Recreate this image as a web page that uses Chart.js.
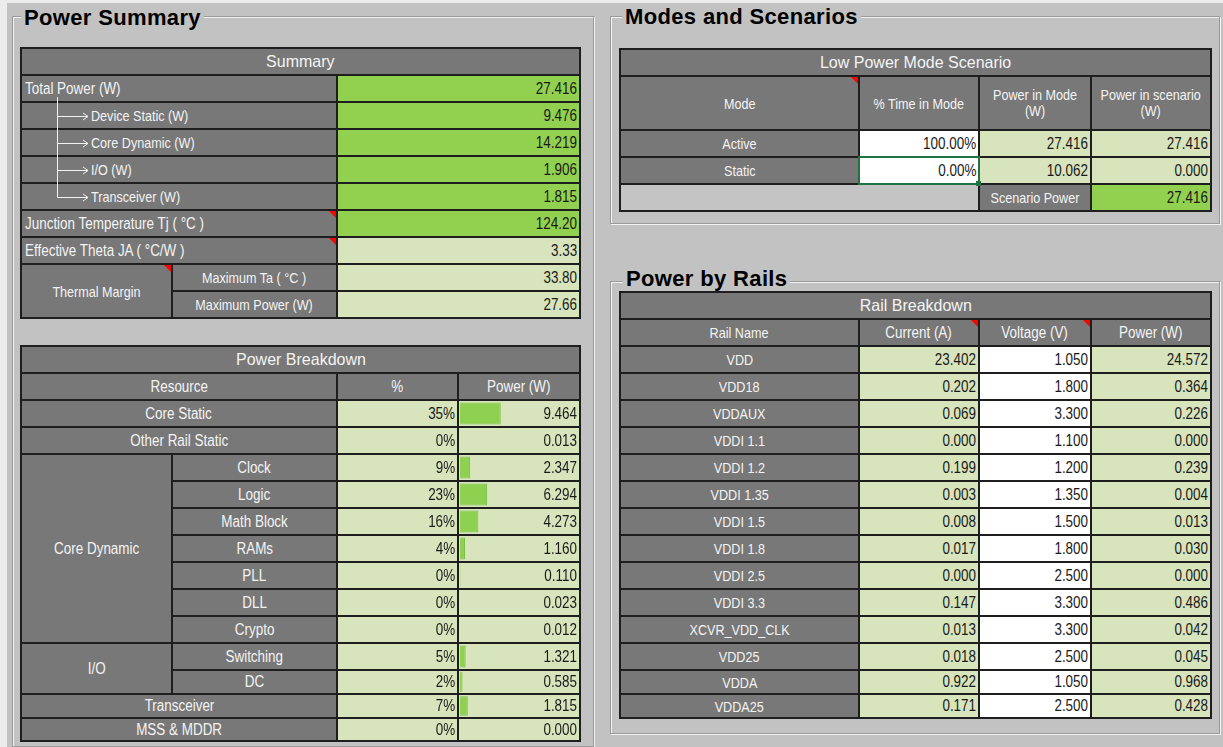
<!DOCTYPE html>
<html><head><meta charset="utf-8">
<script src="https://cdn.jsdelivr.net/npm/chart.js@4/dist/chart.umd.min.js"></script>
<style>
html,body{margin:0;padding:0;}
body{width:1223px;height:747px;position:relative;overflow:hidden;background:#ececec;font-family:"Liberation Sans",Arial,sans-serif;}
#bg{position:absolute;left:7px;top:3px;right:0;bottom:0;background:#c2c2c2;}
.frame{position:absolute;border:1px solid #9a9a9a;box-shadow:inset 1px 1px 0 #f2f2f2, 1px 1px 0 #f2f2f2;}
.title{position:absolute;font:bold 22px "Liberation Sans",Arial,sans-serif;letter-spacing:0.35px;color:#000;background:#c2c2c2;padding:0 3px;line-height:22px;white-space:nowrap;}
.grid{position:absolute;background:#1e1e1e;}
.c{position:absolute;box-sizing:border-box;display:flex;align-items:center;overflow:visible;white-space:nowrap;font-size:16px;}
.c span{position:relative;z-index:2;display:inline-block;}
.dk{background:#787878;color:#f4f4f4;justify-content:center;text-align:center;}
.hd{font-size:16.5px;}
.lg{background:#d8e4bc;color:#1a1a1a;justify-content:flex-end;padding-right:2px;}
.gr{background:#92d050;color:#1a1a1a;justify-content:flex-end;padding-right:2px;}
.wh{background:#ffffff;color:#1a1a1a;justify-content:flex-end;padding-right:2px;}
.em{background:#c4c4c4;}
.left{justify-content:flex-start;padding-left:3px;}
.tri{position:absolute;top:0;right:0;width:0;height:0;border-top:7px solid #ff0000;border-left:7px solid transparent;z-index:3;}
.bar{position:absolute;z-index:1;}
</style>
</head><body>
<div id="bg"></div>
<script>
// ---------------- DATA ----------------
const summaryLabels = ['Total Power (W)','Device Static (W)','Core Dynamic (W)','I/O (W)','Transceiver (W)','Junction Temperature Tj ( °C )','Effective Theta JA ( °C/W )','Maximum Ta ( °C )','Maximum Power (W)'];
const summaryValues = [27.416, 9.476, 14.219, 1.906, 1.815, 124.20, 3.33, 33.80, 27.66];
const summaryDigits = [3,3,3,3,3,2,2,2,2];

const breakdownResources = ['Core Static','Other Rail Static','Clock','Logic','Math Block','RAMs','PLL','DLL','Crypto','Switching','DC','Transceiver','MSS & MDDR'];
const breakdownGroups = ['', '', 'Core Dynamic','Core Dynamic','Core Dynamic','Core Dynamic','Core Dynamic','Core Dynamic','Core Dynamic','I/O','I/O','',''];
const breakdownPct = [35, 0, 9, 23, 16, 4, 0, 0, 0, 5, 2, 7, 0];
const breakdownPower = [9.464, 0.013, 2.347, 6.294, 4.273, 1.160, 0.110, 0.023, 0.012, 1.321, 0.585, 1.815, 0.000];

const modeNames = ['Active','Static'];
const modeTimePct = [100.00, 0.00];
const modePower = [27.416, 10.062];
const modeScenarioPower = [27.416, 0.000];
const scenarioPower = 27.416;

const railNames = ['VDD','VDD18','VDDAUX','VDDI 1.1','VDDI 1.2','VDDI 1.35','VDDI 1.5','VDDI 1.8','VDDI 2.5','VDDI 3.3','XCVR_VDD_CLK','VDD25','VDDA','VDDA25'];
const railCurrent = [23.402, 0.202, 0.069, 0.000, 0.199, 0.003, 0.008, 0.017, 0.000, 0.147, 0.013, 0.018, 0.922, 0.171];
const railVoltage = [1.050, 1.800, 3.300, 1.100, 1.200, 1.350, 1.500, 1.800, 2.500, 3.300, 3.300, 2.500, 1.050, 2.500];
const railPower = [24.572, 0.364, 0.226, 0.000, 0.239, 0.004, 0.013, 0.030, 0.000, 0.486, 0.042, 0.045, 0.968, 0.428];

// ---------------- LAYOUT ----------------
const SX = [21,172,337,580];
const SY = [48,75,102,129,156,183,210,237,264,291,318];
const BX = [21,172,337,458,580];
const BY = [346,373,400,427,454,481,508,535,562,589,616,643,670,694,718,741];
const MX = [620,859,979,1091,1211];
const MY = [49,76,130,157,184,211];
const RX = [620,859,979,1091,1211];
const RY = [292,319,346,373,400,427,454,481,508,535,562,589,616,643,670,694,718];
const SQUEEZE = 0.84;

const body = document.body;
function el(tag, cls, style, html){
  const d = document.createElement(tag);
  if (cls) d.className = cls;
  if (style) Object.assign(d.style, style);
  if (html !== undefined) d.innerHTML = html;
  body.appendChild(d);
  return d;
}
function frame(l,t,w,h){ el('div','frame',{left:l+'px',top:t+'px',width:w+'px',height:h+'px'}); }
function title(l,t,txt){ el('div','title',{left:l+'px',top:t+'px'},txt); }
function grid(X,Y){
  el('div','grid',{left:(X[0]-1)+'px',top:(Y[0]-1)+'px',width:(X[X.length-1]-X[0]+2)+'px',height:(Y[Y.length-1]-Y[0]+2)+'px'});
}
function cell(X,Y,c0,c1,r0,r1,text,cls,extra){
  const d = el('div','c '+cls,Object.assign({left:(X[c0]+1)+'px',top:(Y[r0]+1)+'px',width:(X[c1]-X[c0]-2)+'px',height:(Y[r1]-Y[r0]-2)+'px'},extra||{}));
  const s = document.createElement('span'); s.innerHTML = text;
  const sc = /\bhd\b/.test(cls) ? 0.97 : SQUEEZE;
  let org = 'center center';
  if (/\b(lg|gr|wh)\b/.test(cls)) org = 'right center';
  else if (/\bleft\b/.test(cls)) org = 'left center';
  s.style.transform = 'scaleX('+sc+')';
  s.style.transformOrigin = org;
  d.appendChild(s);
  return d;
}
function tri(d){ const t=document.createElement('div'); t.className='tri'; d.appendChild(t); }

// frames + titles
frame(12,16,580,729);
frame(610,16,608,206);
frame(610,281,608,451);
title(21,7,'Power Summary');
title(622,6,'Modes and Scenarios');
title(623,268,'Power by Rails');

// ---------- Summary table ----------
grid(SX,SY);
cell(SX,SY,0,3,0,1,'Summary','dk hd');
summaryLabels.forEach((lab,i)=>{
  const r = i+1;
  const v = summaryValues[i].toFixed(summaryDigits[i]);
  const valCls = i <= 5 ? 'gr' : 'lg';
  if (i === 0 || i === 5 || i === 6) {
    const d = cell(SX,SY,0,2,r,r+1,lab,'dk left');
    if (i >= 5) tri(d);
  } else if (i >= 1 && i <= 4) {
    cell(SX,SY,0,2,r,r+1,lab,'dk left',{paddingLeft:'69px',fontSize:'15px'});
  } else {
    cell(SX,SY,1,2,r,r+1,lab,'dk',{fontSize:'15px'});
  }
  cell(SX,SY,2,3,r,r+1,v,valCls);
});
tri(cell(SX,SY,0,1,8,10,'Thermal Margin','dk',{fontSize:'15px'}));
// tree connector
(function(){
  const ns='http://www.w3.org/2000/svg';
  const svg=document.createElementNS(ns,'svg');
  svg.setAttribute('width','120'); svg.setAttribute('height','130');
  Object.assign(svg.style,{position:'absolute',left:'0px',top:'90px',zIndex:5});
  const ys=[2,3,4,5].map(k=>Math.round((SY[k]+SY[k+1])/2)-90+0.5);
  let d='M57.5 7 L57.5 '+ys[3]+' ';
  ys.forEach(y=>{ d+='M57.5 '+y+' L88 '+y+' M83 '+(y-3.5)+' L88 '+y+' L83 '+(y+3.5)+' '; });
  const p=document.createElementNS(ns,'path');
  p.setAttribute('d',d); p.setAttribute('stroke','#f2f2f2'); p.setAttribute('fill','none'); p.setAttribute('stroke-width','1');
  svg.appendChild(p); body.appendChild(svg);
})();

// ---------- Power Breakdown ----------
grid(BX,BY);
cell(BX,BY,0,4,0,1,'Power Breakdown','dk hd');
cell(BX,BY,0,2,1,2,'Resource','dk');
cell(BX,BY,2,3,1,2,'%','dk');
cell(BX,BY,3,4,1,2,'Power (W)','dk');
const totalPower = summaryValues[0];
breakdownResources.forEach((res,i)=>{
  const r = i+2;
  const g = breakdownGroups[i];
  if (g) {
    if (i===0 || breakdownGroups[i-1]!==g) {
      let e=i; while (e+1<breakdownGroups.length && breakdownGroups[e+1]===g) e++;
      cell(BX,BY,0,1,r,e+3,g,'dk');
    }
    cell(BX,BY,1,2,r,r+1,res,'dk');
  } else {
    cell(BX,BY,0,2,r,r+1,res,'dk');
  }
  cell(BX,BY,2,3,r,r+1,breakdownPct[i]+'%','lg');
  const pc = cell(BX,BY,3,4,r,r+1,breakdownPower[i].toFixed(3),'lg');
  // data bar drawn by Chart.js
  const h = BY[r+1]-BY[r]-2;
  const cv = document.createElement('canvas');
  cv.width = 118; cv.height = h;
  cv.className='bar';
  Object.assign(cv.style,{left:'1px',top:'0px',width:'118px',height:h+'px'});
  pc.appendChild(cv);
  new Chart(cv,{
    type:'bar',
    data:{labels:[res],datasets:[{data:[breakdownPower[i]],backgroundColor:'#8ed04f',borderColor:'#78c044',borderWidth:1,barPercentage:0.88,categoryPercentage:1}]},
    options:{indexAxis:'y',responsive:false,animation:false,
      plugins:{legend:{display:false},tooltip:{enabled:false}},
      layout:{padding:0},
      scales:{x:{display:false,min:0,max:totalPower},y:{display:false}}}
  });
});

// ---------- Modes and Scenarios ----------
grid(MX,MY);
cell(MX,MY,0,4,0,1,'Low Power Mode Scenario','dk hd');
tri(cell(MX,MY,0,1,1,2,'Mode','dk',{fontSize:'15px'}));
cell(MX,MY,1,2,1,2,'% Time in Mode','dk',{fontSize:'15px'});
cell(MX,MY,2,3,1,2,'Power in Mode<br>(W)','dk',{fontSize:'15px',lineHeight:'16px'});
cell(MX,MY,3,4,1,2,'Power in scenario<br>(W)','dk',{fontSize:'15px',lineHeight:'16px'});
modeNames.forEach((m,i)=>{
  const r=i+2;
  cell(MX,MY,0,1,r,r+1,m,'dk',{fontSize:'15px'});
  cell(MX,MY,1,2,r,r+1,modeTimePct[i].toFixed(2)+'%','wh');
  cell(MX,MY,2,3,r,r+1,modePower[i].toFixed(3),'lg');
  cell(MX,MY,3,4,r,r+1,modeScenarioPower[i].toFixed(3),'lg');
});
cell(MX,MY,0,2,4,5,'','em');
cell(MX,MY,2,3,4,5,'Scenario Power','dk',{fontSize:'15px'});
cell(MX,MY,3,4,4,5,scenarioPower.toFixed(3),'gr');
// selection box on Static % cell
el('div','',{position:'absolute',left:(MX[1]-1)+'px',top:(MY[3]-1)+'px',width:(MX[2]-MX[1]-2)+'px',height:(MY[4]-MY[3]-2)+'px',border:'2px solid #217346',zIndex:6});
el('div','',{position:'absolute',left:(MX[2]-3)+'px',top:(MY[4]-3)+'px',width:'5px',height:'5px',background:'#217346',zIndex:7});

// ---------- Rail Breakdown ----------
grid(RX,RY);
cell(RX,RY,0,4,0,1,'Rail Breakdown','dk hd');
cell(RX,RY,0,1,1,2,'Rail Name','dk',{fontSize:'15px'});
tri(cell(RX,RY,1,2,1,2,'Current (A)','dk'));
tri(cell(RX,RY,2,3,1,2,'Voltage (V)','dk'));
cell(RX,RY,3,4,1,2,'Power (W)','dk');
railNames.forEach((n,i)=>{
  const r=i+2;
  cell(RX,RY,0,1,r,r+1,n,'dk',{fontSize:'15px'});
  cell(RX,RY,1,2,r,r+1,railCurrent[i].toFixed(3),'lg');
  cell(RX,RY,2,3,r,r+1,railVoltage[i].toFixed(3),'wh');
  cell(RX,RY,3,4,r,r+1,railPower[i].toFixed(3),'lg');
});
</script>
</body></html>
